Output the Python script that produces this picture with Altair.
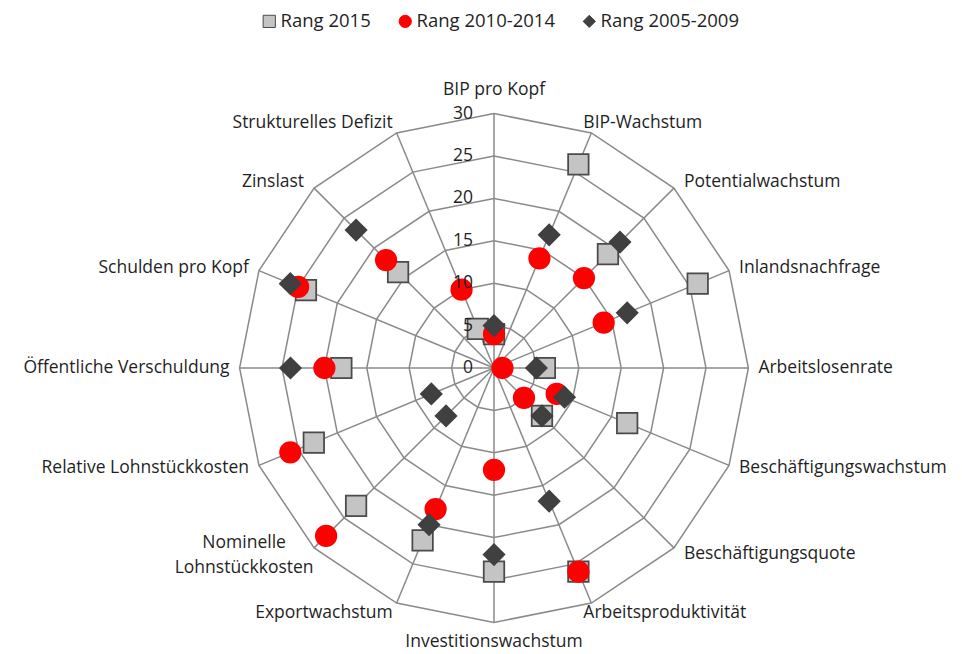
import altair as alt
import pandas as pd

categories = ["BIP pro Kopf", "BIP-Wachstum", "Potentialwachstum", "Inlandsnachfrage",
              "Arbeitslosenrate", "Beschäftigungswachstum", "Beschäftigungsquote",
              "Arbeitsproduktivität", "Investitionswachstum", "Exportwachstum",
              "Nominelle Lohnstückkosten", "Relative Lohnstückkosten",
              "Öffentliche Verschuldung", "Schulden pro Kopf", "Zinslast",
              "Strukturelles Defizit"]
rang_2015 = [4, 26, 19, 26, 6, 17, 8, 26, 24, 22, 23, 23, 18, 24, 16, 5]
rang_2010_2014 = [4, 14, 15, 14, 1, 8, 5, 26, 12, 18, 28, 26, 20, 25, 18, 10]
rang_2005_2009 = [5, 17, 21, 17, 5, 9, 8, 17, 22, 20, 8, 8, 24, 26, 23, None]
series_names = ["Rang 2015", "Rang 2010-2014", "Rang 2005-2009"]
ring_values = [5, 10, 15, 20, 25, 30]
tick_values = [0, 5, 10, 15, 20, 25, 30]
tick_labels = ["0", "5", "10", "15", "20", "25", "30"]
R_MAX = 30

N = len(categories)
FONT = "Open Sans"
FS = 17.5
TXT = "#1f1f1f"
GRID = "#8a8a8a"

# geometry of the canvas (pixels per data unit)
W, H = 946, 646
K = 8.48
CX, CY = 486, 360
xscale = alt.Scale(domain=[-CX / K, (W - CX) / K], nice=False, zero=False)
yscale = alt.Scale(domain=[-(H - CY) / K, CY / K], nice=False, zero=False)

# ---- tables built from the arrays ----
rows = []
for so, (name, vals) in enumerate(zip(series_names, [rang_2015, rang_2010_2014, rang_2005_2009])):
    for i, v in enumerate(vals):
        if v is not None:
            rows.append({"i": i, "series": name, "so": so, "value": v})
pts_df = pd.DataFrame(rows)

ring_df = pd.DataFrame([{"ring": r, "j": j} for r in ring_values for j in range(N + 1)])
spoke_df = pd.DataFrame({"i": list(range(N))})
lab_df = pd.DataFrame({
    "i": list(range(N)),
    "label": [c.replace("Nominelle ", "Nominelle\n") for c in categories],
})
lab_df["ml"] = lab_df["label"].str.contains("\n").astype(int)
tick_df = pd.DataFrame({"v": tick_values, "t": tick_labels})

theta = f"datum.i * 2 * PI / {N}"


def xy(ch):
    return dict(x=alt.X(f"{ch}x:Q", scale=xscale, axis=None),
                y=alt.Y(f"{ch}y:Q", scale=yscale, axis=None))


# grid rings
rings = alt.Chart(ring_df).transform_calculate(
    th=f"datum.j * 2 * PI / {N}"
).transform_calculate(
    gx="datum.ring * sin(datum.th)", gy="datum.ring * cos(datum.th)"
).mark_line(color=GRID, strokeWidth=1.5).encode(
    **xy("g"), detail="ring:N", order="j:Q"
)

# spokes
spokes = alt.Chart(spoke_df).transform_calculate(
    th=theta
).transform_calculate(
    sx="0", sy="0",
    ex=f"{R_MAX} * sin(datum.th)", ey=f"{R_MAX} * cos(datum.th)"
).mark_rule(color=GRID, strokeWidth=1.5).encode(
    x=alt.X("sx:Q", scale=xscale, axis=None),
    y=alt.Y("sy:Q", scale=yscale, axis=None),
    x2="ex:Q", y2="ey:Q"
)

# tick labels
ticks = alt.Chart(tick_df).transform_calculate(
    tx=f"-21 / {K}", ty="datum.v"
).mark_text(align="right", baseline="middle", font=FONT, fontSize=FS, color=TXT).encode(
    **xy("t"), text="t:N"
)

# category labels
lab_base = alt.Chart(lab_df).transform_calculate(
    th=theta
).transform_calculate(
    s="sin(datum.th)", c="cos(datum.th)"
).transform_calculate(
    lx=(f"datum.ml == 1 ? ({R_MAX} * datum.s - 70 / {K}) : "
        f"abs(datum.s) < 0.01 ? 0 : "
        f"abs(datum.s) < 0.5 ? ({R_MAX} * datum.s + (datum.s > 0 ? -8 : -4) / {K}) : "
        f"({R_MAX} * datum.s + (datum.s > 0 ? 10 : -10) / {K})"),
    ly=(f"datum.ml == 1 ? ({R_MAX} * datum.c + 5 / {K}) : "
        f"abs(datum.s) < 0.01 ? (datum.c > 0 ? ({R_MAX} + 24 / {K}) : -({R_MAX} + 19.5 / {K})) : "
        f"abs(datum.s) < 0.5 ? ({R_MAX} * datum.c + (datum.c > 0 ? 9.5 : -9.5) / {K}) : "
        f"({R_MAX} * datum.c + datum.c * 8 / {K})"),
)
lab_kw = dict(baseline="middle", font=FONT, fontSize=FS, color=TXT, lineBreak="\n", lineHeight=25)
lab_left = lab_base.transform_filter("datum.s > 0.1").mark_text(align="left", **lab_kw).encode(
    **xy("l"), text="label:N")
lab_right = lab_base.transform_filter("datum.s < -0.1 && datum.ml == 0").mark_text(
    align="right", **lab_kw).encode(**xy("l"), text="label:N")
lab_center = lab_base.transform_filter("abs(datum.s) <= 0.1 || datum.ml == 1").mark_text(
    align="center", **lab_kw).encode(**xy("l"), text="label:N")

# data points
leg = dict(title=None, orient="none", legendX=252, legendY=4, direction="horizontal",
           columns=3, columnPadding=25, labelFont=FONT, labelFontSize=18.5, labelColor=TXT,
           labelOffset=2, symbolSize=150, symbolStrokeWidth=1, padding=0)
points = alt.Chart(pts_df).transform_calculate(
    th=theta
).transform_calculate(
    px="datum.value * sin(datum.th)", py="datum.value * cos(datum.th)",
    sz="datum.so == 0 ? 420 : datum.so == 1 ? 420 : 430"
).mark_point(filled=True, strokeWidth=1.75, opacity=1, strokeOpacity=1, fillOpacity=1).encode(
    **xy("p"),
    fill=alt.Fill("series:N", scale=alt.Scale(domain=series_names,
                  range=["#c4c4c4", "#ff0000", "#404040"]), legend=alt.Legend(**leg)),
    stroke=alt.Stroke("series:N", scale=alt.Scale(domain=series_names,
                      range=["#4a4a4a", "#ff0000", "#404040"]), legend=alt.Legend(**leg)),
    shape=alt.Shape("series:N", scale=alt.Scale(domain=series_names,
                    range=["square", "circle", "diamond"]), legend=alt.Legend(**leg)),
    size=alt.Size("sz:Q", scale=None, legend=None),
    order=alt.Order("so:Q"),
)

chart = alt.layer(rings, spokes, lab_left, lab_right, lab_center, points, ticks).properties(
    width=W, height=H, autosize=alt.AutoSizeParams(type="none"), padding=0
).configure_view(stroke=None)

chart.save("out.html", embed_options={"renderer": "svg", "actions": False})
